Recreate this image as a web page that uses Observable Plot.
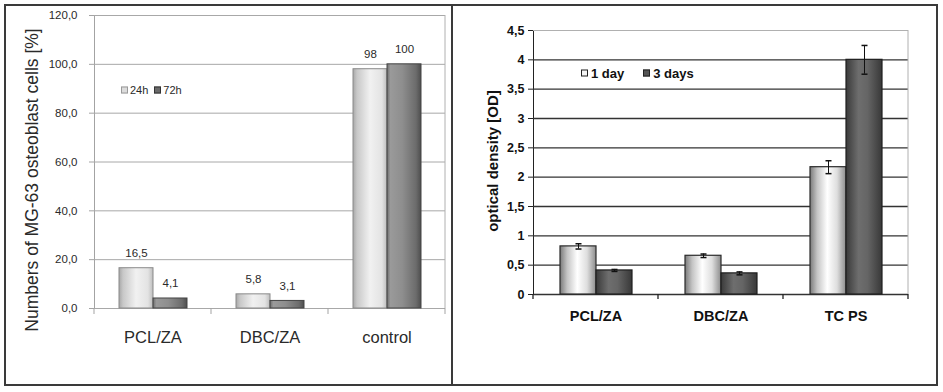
<!DOCTYPE html>
<html>
<head>
<meta charset="utf-8">
<script src="https://cdn.jsdelivr.net/npm/d3@7"></script>
<script src="https://cdn.jsdelivr.net/npm/@observablehq/plot@0.6"></script>
<style>
  body { margin: 0; background: #fff; }
  #wrap { position: relative; width: 943px; height: 392px; overflow: hidden; font-family: "Liberation Sans", Arial, sans-serif; }
  #L, #R { position: absolute; top: 0; }
  #L { left: 0; }
  #R { left: 453px; }
  #L svg text { fill: #2a2a2a; }
  #R svg text { fill: #111; }
  .border { position: absolute; left: 4px; top: 4px; width: 934px; height: 382px; border: 2px solid #3a3a3a; box-sizing: border-box; pointer-events: none; }
  .divider { position: absolute; left: 451px; top: 5px; width: 2px; height: 380px; background: #3a3a3a; }
  .ytitle { position: absolute; white-space: nowrap; line-height: 1; transform: translate(-50%, -50%) rotate(-90deg); }
  .legend { position: absolute; display: flex; align-items: center; white-space: nowrap; transform: translateY(-50%); line-height: 1; }
  .sw { display: inline-block; box-sizing: border-box; width: 7px; height: 7px; border: 1px solid; }
</style>
</head>
<body>
<div id="wrap">
  <div id="L"></div>
  <div id="R"></div>
  <div class="ytitle" id="tL" style="left:33px;top:180px;font-size:17.5px;color:#2a2a2a;"></div>
  <div class="ytitle" id="tR" style="left:492px;top:161px;font-size:15px;font-weight:bold;color:#111;"></div>
  <div class="legend" id="lgL" style="left:121px;top:90px;color:#2a2a2a;"></div>
  <div class="legend" id="lgR" style="left:581px;top:73px;color:#111;font-weight:bold;font-size:13px;"></div>
  <div class="divider"></div>
  <div class="border"></div>
</div>
<script>
// ---------- data: left panel ----------
const leftCategories = ["PCL/ZA", "DBC/ZA", "control"];
const leftSeries = ["24h", "72h"];
const left24h = [16.5, 5.8, 98];
const left72h = [4.1, 3.1, 100];
const leftTicks = [0, 20, 40, 60, 80, 100, 120];
const leftTitle = "Numbers of MG-63 osteoblast cells [%]";

// ---------- data: right panel ----------
const rightCategories = ["PCL/ZA", "DBC/ZA", "TC PS"];
const rightSeries = ["1 day", "3 days"];
const right1day = [0.82, 0.66, 2.17];
const right1dayErr = [0.045, 0.03, 0.11];
const right3days = [0.41, 0.36, 4.0];
const right3daysErr = [0.017, 0.025, 0.245];
const rightTicks = [0, 0.5, 1, 1.5, 2, 2.5, 3, 3.5, 4, 4.5];
const rightTitle = "optical density [OD]";

// ---------- fonts ----------
const REG = '"Liberation Sans", Arial, sans-serif';
const NARROW = '"Liberation Sans Narrow", "Arial Narrow", "Liberation Sans", Arial, sans-serif';
const narrowOK = (() => {
  const c = document.createElement("canvas").getContext("2d");
  const s = "120,0 Numbers of MG";
  c.font = '20px "Liberation Sans Narrow", monospace'; const a = c.measureText(s).width;
  c.font = '20px monospace'; const b = c.measureText(s).width;
  return Math.abs(a - b) > 0.5;
})();
const fL = narrowOK
  ? {tick: ["12.5px", NARROW], value: ["13px", NARROW], legend: ["12px", NARROW]}
  : {tick: ["11.5px", REG], value: ["11.5px", REG], legend: ["11px", REG]};

const comma = v => String(v).replace(".", ",");

// ---------- helpers ----------
function addGradients(svg, defs) {
  const d = d3.select(svg).insert("defs", ":first-child");
  for (const [id, stops] of defs) {
    const g = d.append("linearGradient").attr("id", id)
      .attr("x1", 0).attr("x2", 1).attr("y1", 0).attr("y2", 0);
    for (const [o, c] of stops) g.append("stop").attr("offset", o).attr("stop-color", c);
  }
}
function extras(svg, o) {
  const fx = svg.scale("fx"), y = svg.scale("y");
  const starts = fx.domain.map(d => fx.apply(d));
  const bw = fx.bandwidth;
  const bounds = [...starts, starts[starts.length - 1] + bw];
  const y0 = y.apply(0), yTop = y.apply(y.domain[1]);
  const g = d3.select(svg).append("g");
  g.selectAll("line.bt").data(bounds).join("line")
    .attr("x1", d => d).attr("x2", d => d)
    .attr("y1", y0).attr("y2", y0 + o.tickLen)
    .attr("stroke", o.tickColor).attr("stroke-width", o.tickWidth);
  const xr = bounds[bounds.length - 1];
  g.append("line").attr("x1", xr).attr("x2", xr).attr("y1", yTop).attr("y2", y0)
    .attr("stroke", o.frameColor).attr("stroke-width", 1);
}
function styleText(svg, sel, size, family, weight) {
  d3.select(svg).selectAll(sel).style("font-size", size).style("font-family", family);
  if (weight) d3.select(svg).selectAll(sel).style("font-weight", weight);
}

// ---------- left chart ----------
const leftData = leftCategories.flatMap((c, i) => [
  {cat: c, s: leftSeries[0], v: left24h[i]},
  {cat: c, s: leftSeries[1], v: left72h[i]}
]);
const L = Plot.plot({
  width: 452, height: 392,
  marginLeft: 94, marginRight: 7, marginTop: 15, marginBottom: 84,
  style: {fontFamily: REG, fontSize: "11.5px", background: "transparent", color: "#a3a3a3", overflow: "visible"},
  facet: {data: leftData, x: "cat"},
  fx: {domain: leftCategories, padding: 0, axis: "bottom", label: null, tickSize: 0, tickPadding: 23},
  x: {domain: leftSeries, paddingInner: 0, paddingOuter: 0.7, axis: null},
  y: {domain: [0, 120], ticks: leftTicks, tickFormat: d => d.toFixed(1).replace(".", ","), tickSize: 5, tickPadding: 12, label: null, line: true},
  marks: [
    Plot.ruleY(leftTicks, {stroke: "#a8a8a8"}),
    Plot.barY(leftData, {filter: d => d.s === leftSeries[0], x: "s", y: "v", fill: "url(#gL24)", stroke: "#8a8a8a"}),
    Plot.barY(leftData, {filter: d => d.s === leftSeries[1], x: "s", y: "v", fill: "url(#gL72)", stroke: "#444"}),
    Plot.text(leftData, {x: "s", y: "v", text: d => comma(d.v), dy: -15, fill: "#2a2a2a", fontSize: fL.value[0], fontFamily: fL.value[1]})
  ]
});
addGradients(L, [
  ["gL24", [[0, "#a8a8a8"], [0.12, "#c8c8c8"], [0.5, "#f1f1f1"], [0.85, "#e3e3e3"], [1, "#bdbdbd"]]],
  ["gL72", [[0, "#6e6e6e"], [0.1, "#9a9a9a"], [0.45, "#8e8e8e"], [0.85, "#6c6c6c"], [1, "#4e4e4e"]]]
]);
extras(L, {tickLen: 6, tickColor: "#a3a3a3", tickWidth: 1, frameColor: "#b0b0b0"});
styleText(L, 'g[aria-label^="y-axis"] text', fL.tick[0], fL.tick[1]);
styleText(L, 'g[aria-label^="fx-axis"] text', "16.5px", REG);
document.getElementById("L").appendChild(L);

// ---------- right chart ----------
const rightData = rightCategories.flatMap((c, i) => [
  {cat: c, s: rightSeries[0], v: right1day[i], e: right1dayErr[i]},
  {cat: c, s: rightSeries[1], v: right3days[i], e: right3daysErr[i]}
]);
const cap = {draw(ctx, size) { const w = Math.sqrt(size / Math.PI); ctx.moveTo(-w, 0); ctx.lineTo(w, 0); }};
const R = Plot.plot({
  width: 490, height: 392,
  marginLeft: 79, marginRight: 35, marginTop: 30, marginBottom: 98,
  style: {fontFamily: REG, fontSize: "12.5px", fontWeight: "bold", background: "transparent", color: "#222", overflow: "visible"},
  facet: {data: rightData, x: "cat"},
  fx: {domain: rightCategories, padding: 0, axis: "bottom", label: null, tickSize: 0, tickPadding: 16},
  x: {domain: rightSeries, paddingInner: 0, paddingOuter: 0.7, axis: null},
  y: {domain: [0, 4.5], ticks: rightTicks, tickFormat: comma, tickSize: 5, tickPadding: 4, label: null, line: true},
  marks: [
    Plot.ruleY([rightTicks[rightTicks.length - 1]], {stroke: "#b0b0b0"}),
    Plot.ruleY(rightTicks.slice(0, -1), {stroke: "#333", strokeWidth: 1.4}),
    Plot.barY(rightData, {filter: d => d.s === rightSeries[0], x: "s", y: "v", fill: "url(#gR1)", stroke: "#2a2a2a", strokeWidth: 1.2}),
    Plot.barY(rightData, {filter: d => d.s === rightSeries[1], x: "s", y: "v", fill: "url(#gR3)", stroke: "#1e1e1e", strokeWidth: 1.2}),
    Plot.ruleX(rightData, {x: "s", y1: d => d.v - d.e, y2: d => d.v + d.e, stroke: "#111"}),
    Plot.dot(rightData, {x: "s", y: d => d.v + d.e, symbol: cap, r: 3, fill: "none", stroke: "#111"}),
    Plot.dot(rightData, {x: "s", y: d => d.v - d.e, symbol: cap, r: 3, fill: "none", stroke: "#111"})
  ]
});
addGradients(R, [
  ["gR1", [[0, "#7a7a7a"], [0.2, "#c4c4c4"], [0.48, "#ffffff"], [0.75, "#dedede"], [1, "#8c8c8c"]]],
  ["gR3", [[0, "#3a3a3a"], [0.35, "#6e6e6e"], [0.6, "#656565"], [1, "#383838"]]]
]);
extras(R, {tickLen: 5, tickColor: "#222", tickWidth: 1.3, frameColor: "#b0b0b0"});
styleText(R, 'g[aria-label^="fx-axis"] text', "14.5px", REG, "bold");
document.getElementById("R").appendChild(R);

// ---------- titles & legends ----------
document.getElementById("tL").textContent = leftTitle;
document.getElementById("tR").textContent = rightTitle;

function legend(el, series, swatches, gap, textGap, font) {
  const root = d3.select(el);
  if (font) root.style("font-size", font[0]).style("font-family", font[1]);
  series.forEach((s, i) => {
    const item = root.append("span").style("display", "inline-flex").style("align-items", "center")
      .style("margin-right", i < series.length - 1 ? gap : "0px");
    item.append("span").attr("class", "sw").style("background", swatches[i][0]).style("border-color", swatches[i][1])
      .style("margin-right", textGap);
    item.append("span").text(s);
  });
}
legend(document.getElementById("lgL"), leftSeries, [["#dcdcdc", "#9a9a9a"], ["#6a6a6a", "#333"]], "6px", "2px", fL.legend);
legend(document.getElementById("lgR"), rightSeries, [["#f4f4f4", "#222"], ["#555", "#222"]], "19px", "3px", null);
</script>
</body>
</html>
